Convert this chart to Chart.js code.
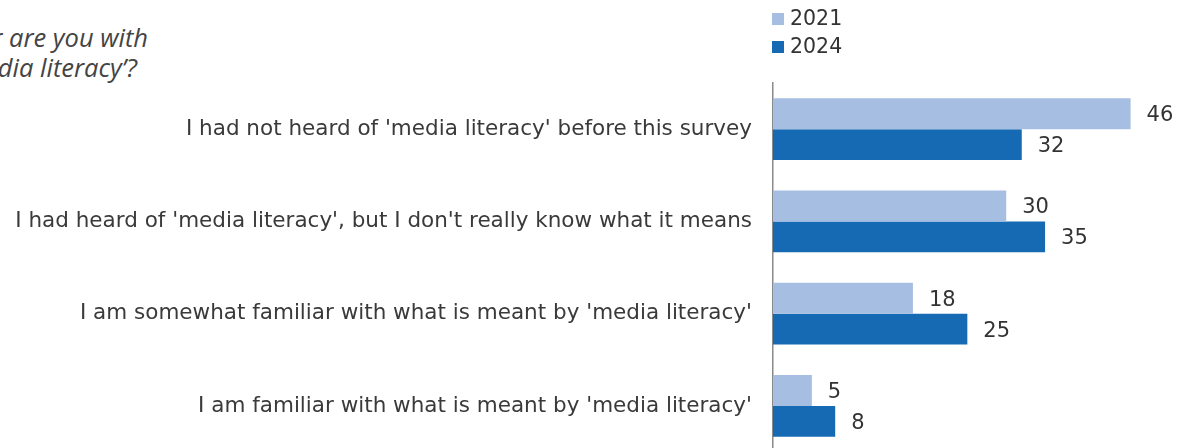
<!DOCTYPE html>
<html>
<head>
<meta charset="utf-8">
<script src="https://cdn.jsdelivr.net/npm/chart.js@4.4.1/dist/chart.umd.min.js"></script>
<style>
  html, body { margin: 0; padding: 0; background: #fff; overflow: hidden; width: 1188px; height: 448px; }
  #wrap { position: absolute; left: 0; top: 0; width: 1188px; height: 486px; }
  .title { position: absolute; white-space: nowrap; text-align: right; font-family: "Open Sans", sans-serif; font-style: italic; font-size: 25.5px; line-height: 30px; color: #444; }
</style>
</head>
<body>
<div class="title" style="right:1040px; top:22px;">How familiar are you with</div>
<div class="title" style="right:1051px; top:52px;">the term ‘media literacy’?</div>
<div id="wrap"><canvas id="c" width="1188" height="486"></canvas></div>
<script>
const categories = [
  "I had not heard of 'media literacy' before this survey",
  "I had heard of 'media literacy', but I don't really know what it means",
  "I am somewhat familiar with what is meant by 'media literacy'",
  "I am familiar with what is meant by 'media literacy'"
];
const seriesNames = ["2021", "2024"];
const values2021 = [46, 30, 18, 5];
const values2024 = [32, 35, 25, 8];
const colors = ["#A7BEE3", "#166AB4"];

const FONT = '"DejaVu Sans", sans-serif';

const valueLabels = {
  id: 'valueLabels',
  afterDatasetsDraw(chart) {
    const ctx = chart.ctx;
    ctx.save();
    ctx.font = '21px ' + FONT;
    ctx.fillStyle = '#333';
    ctx.textAlign = 'left';
    ctx.textBaseline = 'middle';
    chart.data.datasets.forEach((ds, i) => {
      chart.getDatasetMeta(i).data.forEach((bar, j) => {
        ctx.fillText(String(ds.data[j]), bar.x + 16, bar.y + 2);
      });
    });
    ctx.restore();
  }
};

const customLegend = {
  id: 'customLegend',
  afterDraw(chart) {
    const ctx = chart.ctx;
    ctx.save();
    ctx.font = '20.5px ' + FONT;
    ctx.textBaseline = 'middle';
    ctx.textAlign = 'left';
    chart.data.datasets.forEach((ds, i) => {
      const y = 19 + i * 28;
      ctx.fillStyle = ds.backgroundColor;
      ctx.fillRect(772, y - 6, 12, 12);
      ctx.fillStyle = '#333';
      ctx.fillText(ds.label, 790, y + 1);
    });
    ctx.restore();
  }
};

new Chart(document.getElementById('c'), {
  type: 'bar',
  data: {
    labels: categories,
    datasets: [
      { label: seriesNames[0], data: values2021, backgroundColor: colors[0] },
      { label: seriesNames[1], data: values2024, backgroundColor: colors[1] }
    ]
  },
  options: {
    indexAxis: 'y',
    responsive: false,
    animation: false,
    layout: { padding: { top: 83, bottom: 7, left: 0, right: 3 } },
    datasets: { bar: { categoryPercentage: 0.67, barPercentage: 1.0 } },
    plugins: { legend: { display: false }, tooltip: { enabled: false } },
    scales: {
      x: { display: false, min: 0, max: 53 },
      y: {
        afterFit(scale) { scale.width = 773; },
        grid: { display: false, drawTicks: false },
        border: { display: true, color: '#8a8a8a', width: 1.5 },
        ticks: { padding: 21, color: '#3a3a3a', font: { family: FONT, size: 21.5 } }
      }
    }
  },
  plugins: [valueLabels, customLegend]
});
</script>
</body>
</html>
